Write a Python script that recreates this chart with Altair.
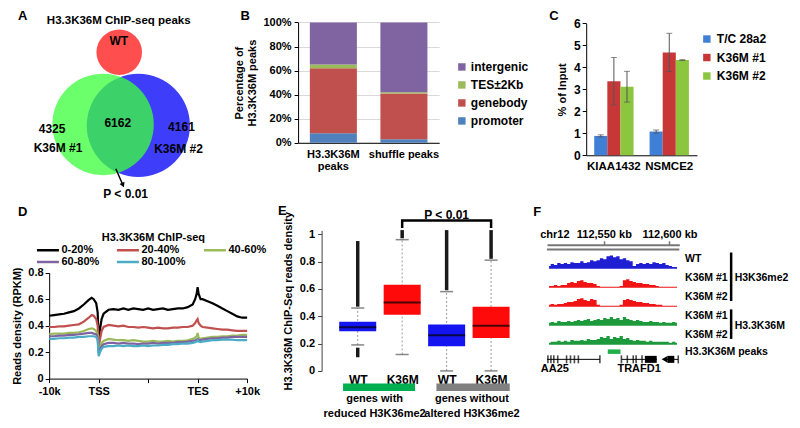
import json
import altair as alt
import pandas as pd

FONT = "Liberation Sans"
W, H = 784, 412
SX, SY = W / 800, H / 428


def PX(v):
    return v * SX


def PY(v):
    return v * SY


# ---------------- Panel A : Venn diagram of H3.3K36M ChIP-seq peaks
A_title = "H3.3K36M ChIP-seq peaks"
A_sets = ["WT", "K36M #2", "K36M #1"]          # drawing order
A_only_rep1 = 4325
A_shared = 6162
A_only_rep2 = 4161
A_pvalue = "P < 0.01"
# Venn layout (reference frame)
A_circle_x = [113.5, 133, 97]
A_circle_y = [46, 122, 121]
A_circle_r = [26.5, 60, 59]
A_circle_color = ["#FF3B3B", "#3434FA", "#3DFF3D"]
A_circle_opacity = [0.9, 0.95, 0.76]
PANEL_LETTERS = ["A", "B", "C", "D", "E", "F"]
PANEL_LETTER_X = [15, 242, 557, 15, 280, 540]
PANEL_LETTER_Y = [8, 8, 8, 212, 211, 212]

# ---------------- Panel B : genomic distribution of peaks
B_groups = ["H3.3K36M peaks", "shuffle peaks"]
B_group_lines = [["H3.3K36M", "peaks"], ["shuffle peaks"]]
B_parts = ["promoter", "genebody", "TES±2Kb", "intergenic"]
B_h33k36m = [8, 54, 3, 35]
B_shuffle = [3, 38, 1, 58]
B_legend_order = ["intergenic", "TES±2Kb", "genebody", "promoter"]
B_colors = ["#8064A2", "#9BBB59", "#C0504D", "#4F81BD"]
B_yticks = [0, 20, 40, 60, 80, 100]

# ---------------- Panel C : ChIP-qPCR
C_genes = ["KIAA1432", "NSMCE2"]
C_series = ["T/C 28a2", "K36M #1", "K36M #2"]
C_kiaa_mean = [0.88, 3.37, 3.12]
C_kiaa_err = [0.05, 1.08, 0.70]
C_nsmce2_mean = [1.08, 4.68, 4.33]
C_nsmce2_err = [0.07, 0.87, 0.02]
C_colors = ["#3F7FD5", "#C83737", "#8CC63F"]

# ---------------- Panel D : metagene profile
D_series = ["0-20%", "20-40%", "40-60%", "60-80%", "80-100%"]
D_colors = ["#000000", "#C0504D", "#9BBB59", "#8064A2", "#4BACC6"]
D_xlabels = ["-10k", "TSS", "", "TES", "+10k"]
D_x = [0.0, 0.1, 0.2, 0.3, 0.4, 0.5, 0.6, 0.7, 0.8, 0.86,
       0.9, 0.95, 0.98, 1.0, 1.03, 1.06, 1.1, 1.2, 1.3, 1.4,
       1.5, 1.6, 1.7, 1.8, 1.9, 2.0, 2.1, 2.2, 2.3, 2.4,
       2.5, 2.6, 2.7, 2.8, 2.9, 2.95, 2.98, 3.0, 3.02, 3.06,
       3.1, 3.2, 3.3, 3.4, 3.5, 3.6, 3.7, 3.8, 3.9, 4.0]
D_q1 = [.475, .48, .485, .49, .50, .51, .53, .56, .595, .61,
        .60, .57, .50, .30, .38, .45, .49, .52, .525, .52,
        .53, .52, .53, .525, .52, .53, .52, .525, .53, .52,
        .525, .53, .53, .54, .56, .60, .64, .69, .64, .60,
        .60, .585, .57, .55, .53, .51, .49, .47, .46, .46]
D_q2 = [.39, .39, .395, .395, .40, .405, .41, .43, .46, .48,
        .475, .45, .40, .24, .30, .36, .39, .405, .40, .395,
        .40, .39, .39, .385, .39, .385, .38, .385, .38, .38,
        .385, .385, .39, .39, .40, .42, .44, .45, .42, .40,
        .39, .385, .38, .375, .37, .37, .365, .36, .36, .36]
D_q3 = [.335, .34, .34, .34, .345, .345, .35, .36, .375, .38,
        .375, .36, .33, .20, .24, .27, .285, .30, .295, .29,
        .29, .285, .29, .285, .28, .28, .285, .28, .28, .285,
        .28, .285, .285, .29, .30, .31, .32, .345, .31, .30,
        .305, .31, .315, .315, .32, .32, .325, .325, .33, .33]
D_q4 = [.32, .32, .325, .325, .33, .33, .335, .34, .345, .345,
        .34, .335, .31, .19, .22, .245, .26, .27, .27, .265,
        .27, .265, .265, .26, .265, .265, .27, .265, .27, .27,
        .27, .275, .275, .28, .285, .29, .295, .30, .29, .29,
        .295, .30, .305, .305, .31, .31, .315, .315, .315, .315]
D_q5 = [.30, .30, .305, .305, .31, .31, .315, .315, .32, .32,
        .32, .315, .29, .17, .20, .225, .24, .245, .245, .25,
        .245, .25, .245, .245, .25, .245, .25, .25, .255, .255,
        .26, .26, .265, .265, .27, .275, .28, .29, .28, .275,
        .28, .285, .29, .29, .295, .295, .295, .29, .29, .29]

# ---------------- Panel E : box plots
E_boxes = ["WT", "K36M", "WT", "K36M"]
E_groups = ["genes with\nreduced H3K36me2", "genes without\naltered H3K36me2"]
E_q1 = [0.29, 0.41, 0.18, 0.24]
E_median = [0.32, 0.50, 0.26, 0.33]
E_q3 = [0.36, 0.63, 0.34, 0.47]
E_whisker_low = [0.19, 0.12, 0.0, 0.0]
E_whisker_high = [0.46, 0.96, 0.58, 0.81]
E_outlier_high_max = [0.95, 1.03, 1.03, 1.03]
E_outlier_low = [0.10, 0.17]        # low outliers of the first box
E_box_colors = ["#1414F0", "#FF0A0A", "#1414F0", "#FF0A0A"]
E_group_colors = ["#00B050", "#808080"]
E_pvalue = "P < 0.01"

# ---------------- Panel F : genome browser view
F_chrom = "chr12"
F_left_kb, F_right_kb = 112506.7, 112607.5
F_ticks_kb = [112550, 112600]
F_bin_start = 112507.0
F_bin_kb = 2.5
F_WT = [3, 5, 4, 6, 5, 6, 5, 7, 6, 6, 8, 6, 7, 9, 8, 9, 11, 10, 13, 14,
        12, 13, 10, 11, 9, 8, 3, 5, 6, 5, 6, 5, 7, 6, 5, 6, 4, 3, 2, 2]
F_me2_rep1 = [2, 2, 3, 2, 3, 3, 5, 6, 5, 7, 8, 6, 5, 5, 4, 2, 1, 1, 1, 1,
              1, 1, 2, 8, 9, 7, 6, 5, 5, 4, 4, 3, 3, 2, 1, 1, 1, 1, 1, 1]
F_me2_rep2 = [2, 3, 2, 3, 3, 4, 5, 5, 6, 8, 9, 7, 6, 8, 7, 2, 1, 1, 1, 1,
              1, 1, 2, 7, 8, 7, 6, 5, 5, 4, 4, 3, 3, 2, 2, 1, 1, 1, 1, 1]
F_k36m_rep1 = [3, 4, 3, 5, 4, 4, 5, 4, 5, 6, 5, 6, 7, 5, 6, 7, 6, 8, 7, 9,
               7, 8, 6, 9, 7, 6, 5, 6, 5, 4, 4, 5, 4, 4, 3, 4, 3, 3, 4, 3]
F_k36m_rep2 = [2, 3, 3, 4, 3, 4, 3, 5, 4, 4, 5, 4, 6, 5, 5, 6, 8, 7, 9, 6,
               8, 7, 9, 6, 7, 5, 4, 5, 4, 4, 3, 4, 3, 3, 3, 3, 3, 2, 3, 2]
F_track_labels = ["WT", "K36M #1", "K36M #2", "K36M #1", "K36M #2"]
F_track_groups = ["H3K36me2", "H3K36me2", "H3K36me2", "H3.3K36M", "H3.3K36M"]
F_track_colors = ["#1E1ED2", "#F01414", "#F01414", "#1C9A3C", "#1C9A3C"]
F_peak_label = "H3.3K36M peaks"
F_peaks = [(112553.0, 112562.7)]
F_gene_names = ["AA25", "TRAFD1"]
F_gene_name_kb = [112512.7, 112576.9]
F_gene_spans = [(112506.7, 112547.0), (112563.4, 112590.3), (112596.3, 112606.7)]
F_exons = [112507.4, 112509.7, 112511.9, 112514.9, 112521.6, 112524.6, 112527.6,
           112530.6, 112547.0, 112563.4, 112567.9, 112572.4, 112574.6, 112579.1, 112606.7]
F_blocks = [(112581.3, 112590.3), (112598.5, 112603.7)]
F_arrows = [112596.3]

# ---------------- panel frames (reference pixel coordinates of each plot area)
B_FRAME = (296, 440, 15, 140)
C_FRAME = (590, 703, 16, 153)
D_FRAME = (42, 244, 275, 385)
E_FRAME = (320, 523, 231, 377)
F_FRAME = (550, 685, 246, 380)


def xrange(fr):
    return [PX(fr[0]), PX(fr[1])]


def yrange(fr):
    return [PY(fr[3]), PY(fr[2])]


def left_off(fr):
    return -PX(fr[0])


def bottom_off(fr):
    return PY(fr[3]) - H


# ======================================================================
# ---------------- page layer : Venn (A) and panel letters
xP = alt.X("x:Q", scale=alt.Scale(domain=[0, 800], range=[0, W], nice=False, zero=False), axis=None)
yP = alt.Y("y:Q", scale=alt.Scale(domain=[0, 428], range=[0, H], nice=False, zero=False), axis=None)
dfA_c = pd.DataFrame({
    "set": A_sets, "x": A_circle_x, "y": A_circle_y,
    "s": [3.14159 * (r * 0.97) ** 2 for r in A_circle_r],
    "c": A_circle_color, "o": A_circle_opacity, "k": list(range(3))})
A_circles = alt.Chart(dfA_c).mark_circle().encode(
    x=xP, y=yP, size=alt.Size("s:Q", scale=None), color=alt.Color("c:N", scale=None),
    opacity=alt.Opacity("o:Q", scale=None), order=alt.Order("k:Q"))
A_rows = [(A_title, 113, 13, 11.5), ("WT", 113, 34, 12),
          (str(A_shared), 112, 119, 12), (str(A_only_rep1), 45, 126, 12), ("K36M #1", 51, 145, 12),
          (str(A_only_rep2), 177, 124, 12), ("K36M #2", 174, 146, 12), (A_pvalue, 120, 193, 12)]
A_rows += [(t, x, y, 13) for t, x, y in zip(PANEL_LETTERS, PANEL_LETTER_X, PANEL_LETTER_Y)]
dfA_t = pd.DataFrame(A_rows, columns=["t", "x", "y", "fs"])
A_text = alt.Chart(dfA_t).mark_text(baseline="middle").encode(
    x=xP, y=yP, text="t:N", size=alt.Size("fs:Q", scale=None))
dfA_arrow = pd.DataFrame({"x": [110], "y": [167], "x2": [116.5], "y2": [182]})
A_arrow = alt.Chart(dfA_arrow).mark_rule(color="black", strokeWidth=1.5).encode(
    x=xP, y=yP, x2="x2:Q", y2="y2:Q")
A_head = alt.Chart(pd.DataFrame({"x": [117.3], "y": [184]})).mark_point(
    shape="triangle-down", filled=True, color="black", size=30, angle=336, opacity=1).encode(x=xP, y=yP)
PAGE = alt.layer(A_circles, A_text, A_arrow, A_head)

# ---------------- B
rows = []
for g, vals in zip(B_groups, [B_h33k36m, B_shuffle]):
    for k, (p, v) in enumerate(zip(B_parts, vals)):
        rows.append({"group": g, "part": p, "pct": v, "ord": k})
dfB = pd.DataFrame(rows)
B_xexpr = "{}[indexof({}, datum.value)]".format(json.dumps(B_group_lines), json.dumps(B_groups))
B = alt.Chart(dfB).mark_bar().encode(
    x=alt.X("group:N", sort=B_groups,
            scale=alt.Scale(range=xrange(B_FRAME), paddingInner=1 / 3, paddingOuter=1 / 6),
            axis=alt.Axis(orient="bottom", offset=bottom_off(B_FRAME), title=None, labelAngle=0,
                          ticks=False, labelPadding=6, labelExpr=B_xexpr, labelLineHeight=12)),
    y=alt.Y("pct:Q", stack="zero", scale=alt.Scale(domain=[0, 100], range=yrange(B_FRAME), nice=False),
            axis=alt.Axis(orient="left", offset=left_off(B_FRAME), values=B_yticks,
                          labelExpr="datum.value + '%'",
                          title=["Percentage of", "H3.3K36M peaks"], grid=True, gridColor="#D9D9D9",
                          tickSize=4, titlePadding=5, labelPadding=3)),
    color=alt.Color("part:N", scale=alt.Scale(domain=B_legend_order, range=B_colors),
                    legend=alt.Legend(title=None, orient="none", legendX=PX(457), legendY=PY(55),
                                      symbolType="square", symbolSize=55, labelFontSize=12,
                                      rowPadding=6, labelOffset=3)),
    order=alt.Order("ord:Q", sort="ascending"),
)

# ---------------- C
rows = []
for g, means, errs in zip(C_genes, [C_kiaa_mean, C_nsmce2_mean], [C_kiaa_err, C_nsmce2_err]):
    for s, m, e in zip(C_series, means, errs):
        rows.append({"gene": g, "series": s, "mean": m, "lo": m - e, "hi": m + e})
dfC = pd.DataFrame(rows)
xC = alt.X("gene:N", sort=C_genes,
           scale=alt.Scale(range=xrange(C_FRAME), paddingInner=0.29, paddingOuter=0.145),
           axis=alt.Axis(orient="bottom", offset=bottom_off(C_FRAME), title=None, labelAngle=0,
                         ticks=False, labelPadding=5, labelFontSize=11.5))
xoC = alt.XOffset("series:N", sort=C_series, scale=alt.Scale(paddingInner=0, paddingOuter=0))
C_yaxis = alt.Axis(orient="left", offset=left_off(C_FRAME), values=list(range(7)), title="% of Input",
                   tickSize=4, titlePadding=6, labelFontSize=12)


def yC(f):
    return alt.Y(f, scale=alt.Scale(domain=[0, 6], range=yrange(C_FRAME), nice=False), axis=C_yaxis)


C_bars = alt.Chart(dfC).mark_bar().encode(
    x=xC, xOffset=xoC, y=yC("mean:Q"),
    color=alt.Color("series:N", scale=alt.Scale(domain=C_series, range=C_colors),
                    legend=alt.Legend(title=None, orient="none", legendX=PX(707), legendY=PY(26),
                                      symbolType="square", symbolSize=55, labelFontSize=12,
                                      rowPadding=6.5, labelOffset=4)))
C_err = alt.Chart(dfC).mark_rule(color="#555555", strokeWidth=1).encode(
    x=xC, xOffset=xoC, y=yC("lo:Q"), y2="hi:Q")
C_cap_hi = alt.Chart(dfC).mark_tick(orient="horizontal", size=6, thickness=1, color="#555555").encode(
    x=xC, xOffset=xoC, y=yC("hi:Q"))
C_cap_lo = alt.Chart(dfC).mark_tick(orient="horizontal", size=6, thickness=1, color="#555555").encode(
    x=xC, xOffset=xoC, y=yC("lo:Q"))
C = alt.layer(C_bars, C_err, C_cap_hi, C_cap_lo)

# ---------------- D
rows = []
for name, vals in zip(D_series, [D_q1, D_q2, D_q3, D_q4, D_q5]):
    for x, v in zip(D_x, vals):
        rows.append({"series": name, "x": x, "v": v})
dfD = pd.DataFrame(rows)
D_xexpr = json.dumps(D_xlabels) + "[round(datum.value)]"
D_LINE_SYMBOL = "M-2.2,0H2.2"   # wide stroke swatch drawn in a small symbol box
D = alt.Chart(dfD).mark_line(strokeWidth=2.2).encode(
    x=alt.X("x:Q", scale=alt.Scale(domain=[0, 4], range=xrange(D_FRAME), nice=False, zero=False),
            axis=alt.Axis(orient="bottom", offset=bottom_off(D_FRAME), values=[0, 1, 2, 3, 4],
                          labelExpr=D_xexpr, title=None, tickSize=4,
                          labelFlush=False, labelOverlap=False, labelPadding=3)),
    y=alt.Y("v:Q", scale=alt.Scale(domain=[0, 0.8], range=yrange(D_FRAME), nice=False),
            axis=alt.Axis(orient="left", offset=left_off(D_FRAME), values=[0, 0.2, 0.4, 0.6, 0.8],
                          format=".1~f", title="Reads density (RPKM)", tickSize=4, titlePadding=5)),
    color=alt.Color("series:N", scale=alt.Scale(domain=D_series, range=D_colors),
                    legend=alt.Legend(title="H3.3K36M ChIP-seq", orient="none", legendX=PX(28) + 6,
                                      legendY=223.5, direction="horizontal", columns=3,
                                      symbolType=D_LINE_SYMBOL, symbolSize=100, symbolStrokeWidth=2.5,
                                      labelOffset=7, columnPadding=12, rowPadding=0,
                                      titleAnchor="middle", titleFontSize=11, titlePadding=1,
                                      labelFontSize=11)),
)

# ---------------- E
E_pos = [0.7 + i for i in range(len(E_boxes))]
E_xexpr = json.dumps(E_boxes) + "[round(datum.value - {})]".format(E_pos[0])
E_xaxis = alt.Axis(orient="bottom", offset=bottom_off(E_FRAME), values=E_pos, labelExpr=E_xexpr,
                   title=None, domain=False, ticks=False,
                   labelPadding=4, labelFontSize=12, labelFlush=False, labelOverlap=False)
E_yaxis = alt.Axis(orient="left", offset=left_off(E_FRAME), values=[0, 0.2, 0.4, 0.6, 0.8, 1.0],
                   format=".1~f", title="H3.3K36M ChIP-Seq reads density", tickSize=4, titlePadding=6,
                   labelPadding=3, domainColor="#444444", tickColor="#444444")


def xE(f):
    return alt.X(f, scale=alt.Scale(domain=[0, 4.25], range=xrange(E_FRAME), nice=False, zero=False),
                 axis=E_xaxis)


def yE(f):
    return alt.Y(f, scale=alt.Scale(domain=[0, 1.028], range=yrange(E_FRAME), nice=False, zero=False),
                 axis=E_yaxis)


dfE = pd.DataFrame({"pos": E_pos, "box": E_boxes, "q1": E_q1, "med": E_median, "q3": E_q3,
                    "wlo": E_whisker_low, "whi": E_whisker_high, "omax": E_outlier_high_max,
                    "col": E_box_colors})
out_rows = [{"pos": p, "a": w + 0.01, "b": m} for p, w, m in zip(E_pos, E_whisker_high, E_outlier_high_max)]
out_rows.append({"pos": E_pos[0], "a": E_outlier_low[0], "b": E_outlier_low[1]})
dfE_out = pd.DataFrame(out_rows)
cap_rows = [{"pos": p, "v": v} for p, lo, hi in zip(E_pos, E_whisker_low, E_whisker_high) for v in (lo, hi)]
dfE_cap = pd.DataFrame(cap_rows)
E_GROUP_BAR_Y = -0.12
E_GROUP_TEXT_Y = -0.165
dfE_g = pd.DataFrame({
    "name": E_groups,
    "x1": [(E_pos[0] + E_pos[1]) / 2 - 0.83, (E_pos[2] + E_pos[3]) / 2 - 0.73],
    "x2": [(E_pos[0] + E_pos[1]) / 2 + 0.79, (E_pos[2] + E_pos[3]) / 2 + 0.92],
    "cx": [(E_pos[0] + E_pos[1]) / 2 - 0.12, (E_pos[2] + E_pos[3]) / 2 + 0.07],
    "yb": [E_GROUP_BAR_Y] * 2, "yt": [E_GROUP_TEXT_Y] * 2, "col": E_group_colors})
dfE_br = pd.DataFrame({"k": [0, 1, 2, 3], "x": [E_pos[1], E_pos[1], E_pos[3], E_pos[3]],
                       "y": [1.045, 1.10, 1.10, 1.045]})
dfE_p = pd.DataFrame({"x": [(E_pos[1] + E_pos[3]) / 2], "y": [1.14], "t": [E_pvalue]})

E_whisk = alt.Chart(dfE).mark_rule(color="#9A9A9A", strokeDash=[2, 2], strokeWidth=1).encode(
    x=xE("pos:Q"), y=yE("wlo:Q"), y2="whi:Q")
E_out = alt.Chart(dfE_out).mark_rule(color="#1A1A1A", strokeWidth=3.5).encode(
    x=xE("pos:Q"), y=yE("a:Q"), y2="b:Q")
E_box = alt.Chart(dfE).mark_bar(size=37, orient="vertical").encode(
    x=xE("pos:Q"), y=yE("q1:Q"), y2="q3:Q", color=alt.Color("col:N", scale=None))
E_caps = alt.Chart(dfE_cap).mark_tick(orient="horizontal", size=13, thickness=1.5, color="#555555").encode(
    x=xE("pos:Q"), y=yE("v:Q"))
E_med = alt.Chart(dfE).mark_tick(orient="horizontal", size=37, thickness=2, color="black").encode(
    x=xE("pos:Q"), y=yE("med:Q"))
E_gbar = alt.Chart(dfE_g).mark_rule(strokeWidth=7.5).encode(
    x=xE("x1:Q"), x2="x2:Q", y=yE("yb:Q"), color=alt.Color("col:N", scale=None))
E_gtext = alt.Chart(dfE_g).mark_text(lineBreak="\n", baseline="top", lineHeight=15, fontSize=11).encode(
    x=xE("cx:Q"), y=yE("yt:Q"), text="name:N")
E_bracket = alt.Chart(dfE_br).mark_line(color="black", strokeWidth=2.5).encode(
    x=xE("x:Q"), y=yE("y:Q"), order="k:Q")
E_ptext = alt.Chart(dfE_p).mark_text(fontSize=12, baseline="middle").encode(
    x=xE("x:Q"), y=yE("y:Q"), text="t:N")
E = alt.layer(E_whisk, E_out, E_box, E_caps, E_med, E_gbar, E_gtext, E_bracket, E_ptext)

# ---------------- F
F_TRACK_BASE0 = 25.0
F_TRACK_STEP = 19.7
F_LINE2_Y = 5.0
F_PEAK_Y = 111.0
F_GENE_Y = 119.0
F_GENE_NAME_Y = 129.0
F_LABEL_DX = 4.4
F_BRACKET_DX = 39.5
F_GROUP_DX = 42.2

F_xaxis = alt.Axis(orient="top", offset=-PY(F_FRAME[2]), values=F_ticks_kb,
                   labelExpr="format(datum.value, ',') + ' kb'",
                   domainColor="#777777", domainWidth=2, tickColor="#777777", tickSize=4, tickWidth=1.5,
                   labelPadding=1, title=None, labelFlush=False, labelOverlap=False)


def xF(f):
    return alt.X(f, scale=alt.Scale(domain=[F_left_kb, F_right_kb], range=xrange(F_FRAME),
                                    nice=False, zero=False), axis=F_xaxis)


def yF(f):
    return alt.Y(f, scale=alt.Scale(domain=[0, F_FRAME[3] - F_FRAME[2]],
                                    range=[PY(F_FRAME[2]), PY(F_FRAME[3])], nice=False, zero=False),
                 axis=None)


rows = []
for t, vals in enumerate([F_WT, F_me2_rep1, F_me2_rep2, F_k36m_rep1, F_k36m_rep2]):
    base = F_TRACK_BASE0 + F_TRACK_STEP * t
    for i, v in enumerate(vals):
        rows.append({"track": t, "kb": F_bin_start + F_bin_kb * (i + 0.5), "top": base - v,
                     "base": base, "col": F_track_colors[t]})
dfF = pd.DataFrame(rows)
F_tracks = alt.Chart(dfF).mark_area(interpolate="step").encode(
    x=xF("kb:Q"), y=yF("top:Q"), y2="base:Q", detail="track:N", color=alt.Color("col:N", scale=None))
F_line2 = alt.Chart(pd.DataFrame({"a": [F_left_kb], "b": [F_right_kb], "y": [F_LINE2_Y]})).mark_rule(
    color="#777777", strokeWidth=2).encode(x=xF("a:Q"), x2="b:Q", y=yF("y:Q"))
F_chr = alt.Chart(pd.DataFrame({"x": [F_left_kb - 5.2], "y": [-10.5], "t": [F_chrom]})).mark_text(
    align="left", baseline="middle", fontSize=11).encode(x=xF("x:Q"), y=yF("y:Q"), text="t:N")
F_peak = alt.Chart(pd.DataFrame({"a": [p[0] for p in F_peaks], "b": [p[1] for p in F_peaks],
                                 "y": [F_PEAK_Y] * len(F_peaks)})).mark_rule(
    color="#20B04A", strokeWidth=4.5).encode(x=xF("a:Q"), x2="b:Q", y=yF("y:Q"))
F_genes = alt.Chart(pd.DataFrame({"a": [s[0] for s in F_gene_spans], "b": [s[1] for s in F_gene_spans],
                                  "y": [F_GENE_Y] * len(F_gene_spans)})).mark_rule(
    color="black", strokeWidth=1).encode(x=xF("a:Q"), x2="b:Q", y=yF("y:Q"))
F_ex = alt.Chart(pd.DataFrame({"x": F_exons, "y": [F_GENE_Y] * len(F_exons)})).mark_tick(
    orient="vertical", size=8, thickness=1.6, color="black").encode(x=xF("x:Q"), y=yF("y:Q"))
F_blk = alt.Chart(pd.DataFrame({"a": [b[0] for b in F_blocks], "b": [b[1] for b in F_blocks],
                                "y": [F_GENE_Y] * len(F_blocks)})).mark_rule(
    color="black", strokeWidth=7).encode(x=xF("a:Q"), x2="b:Q", y=yF("y:Q"))
F_arr = alt.Chart(pd.DataFrame({"x": F_arrows, "y": [F_GENE_Y] * len(F_arrows)})).mark_point(
    shape="triangle-left", filled=True, color="black", size=45, opacity=1).encode(x=xF("x:Q"), y=yF("y:Q"))
F_gname = alt.Chart(pd.DataFrame({"x": F_gene_name_kb, "y": [F_GENE_NAME_Y] * 2, "t": F_gene_names})).mark_text(
    fontSize=11, baseline="middle").encode(x=xF("x:Q"), y=yF("y:Q"), text="t:N")
lab_y = [F_TRACK_BASE0 + F_TRACK_STEP * i - 10 for i in range(5)]
dfF_lab = pd.DataFrame({"x": [F_right_kb + F_LABEL_DX] * 6, "y": lab_y + [F_PEAK_Y],
                        "t": F_track_labels + [F_peak_label]})
F_labels = alt.Chart(dfF_lab).mark_text(align="left", baseline="middle", fontSize=10.5).encode(
    x=xF("x:Q"), y=yF("y:Q"), text="t:N")
grp_rows = []
for g in ["H3K36me2", "H3.3K36M"]:
    ys = [y for y, gg in zip(lab_y, F_track_groups) if gg == g]
    grp_rows.append({"g": g, "y1": min(ys) - 7, "y2": max(ys) + 4, "ym": (min(ys) + max(ys)) / 2,
                     "xb": F_right_kb + F_BRACKET_DX, "xt": F_right_kb + F_GROUP_DX})
dfF_g = pd.DataFrame(grp_rows)
F_brk = alt.Chart(dfF_g).mark_rule(color="black", strokeWidth=2.5).encode(
    x=xF("xb:Q"), y=yF("y1:Q"), y2="y2:Q")
F_gtxt = alt.Chart(dfF_g).mark_text(align="left", baseline="middle", fontSize=10.5).encode(
    x=xF("xt:Q"), y=yF("ym:Q"), text="g:N")
F = alt.layer(F_tracks, F_line2, F_chr, F_peak, F_genes, F_ex, F_blk, F_arr, F_gname,
              F_labels, F_brk, F_gtxt)

# ---------------- assemble
chart = alt.layer(PAGE, B, C, D, E, F).resolve_scale(
    x="independent", y="independent", color="independent", size="independent",
    opacity="independent", xOffset="independent"
).resolve_axis(x="independent", y="independent").resolve_legend(color="independent").properties(
    width=W, height=H, padding=0, autosize=alt.AutoSizeParams(type="none"))

chart = (chart.configure_view(strokeWidth=0)
         .configure_axis(labelFont=FONT, labelFontSize=11, labelFontWeight="bold", labelColor="black",
                         titleFont=FONT, titleFontSize=11, titleFontWeight="bold", titleColor="black",
                         domainColor="black", tickColor="black", grid=False)
         .configure_legend(labelFont=FONT, labelFontWeight="bold", labelColor="black",
                           titleFont=FONT, titleFontWeight="bold", titleColor="black")
         .configure_text(font=FONT, fontWeight="bold", color="black"))

chart.save("out.html", embed_options={"renderer": "svg", "actions": False})
